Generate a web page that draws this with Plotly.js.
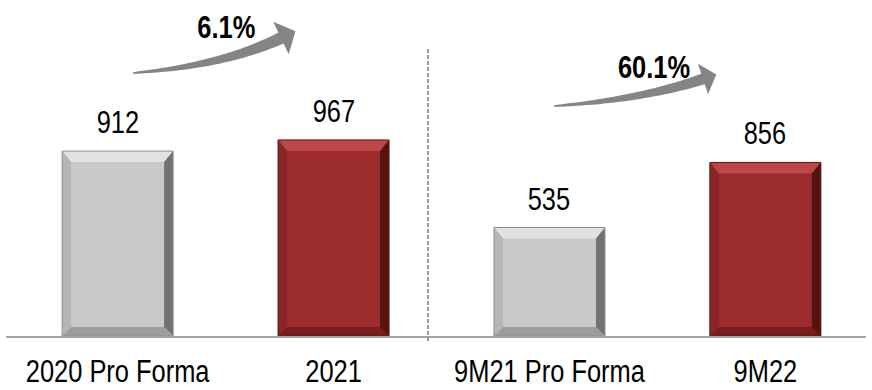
<!DOCTYPE html>
<html><head><meta charset="utf-8">
<script src="https://cdn.plot.ly/plotly-3.0.1.min.js"></script>
<style>html,body{margin:0;padding:0;background:#fff}#chart{width:872px;height:390px}</style>
</head><body><div id="chart"></div>
<script>
// ---- data ----
const categories = ["2020 Pro Forma", "2021", "9M21 Pro Forma", "9M22"];
const values = [912, 967, 535, 856];
const growthLabels = ["6.1%", "60.1%"];
const barKinds = ["base", "current", "base", "current"];

// ---- styling ----
const W = 872, H = 390;
const M = {l: 6, r: 6, t: 0, b: 54};
const PW = W - M.l - M.r, PH = H - M.t - M.b;
const xRange = [-0.517, 3.466];
const yRange = [0, 1657];
const barWidth = 0.514;
const FONT = "Liberation Sans Narrow, Arial Narrow, Liberation Sans, Arial, sans-serif";
const NARROW = 0.82;

const palette = {
  base:    {face: "#c9c9c9", top: "#e2e2e2", left: "#b6b6b6", right: "#727272", bottom: "#9d9d9d", line: "#8e8e8e"},
  current: {face: "#9c2c2c", top: "#bb4848", left: "#8a2525", right: "#561313", bottom: "#761d1d", line: "#5e1717"}
};

const dxPerPx = (xRange[1] - xRange[0]) / PW;
const dyPerPx = (yRange[1] - yRange[0]) / PH;

const shapes = [];
values.forEach((v, i) => {
  const c = palette[barKinds[i]];
  const x0 = i - barWidth / 2, x1 = i + barWidth / 2;
  const bl = 9 * dxPerPx, br = 9 * dxPerPx, bt = 11 * dyPerPx, bb = 9 * dyPerPx;
  const poly = (pts, col) => shapes.push({
    type: "path", xref: "x", yref: "y", layer: "above",
    path: "M" + pts.map(p => p[0] + "," + p[1]).join(" L") + " Z",
    fillcolor: col, line: {width: 0}
  });
  poly([[x0, v], [x1, v], [x1 - br, v - bt], [x0 + bl, v - bt]], c.top);
  poly([[x0, 0], [x0, v], [x0 + bl, v - bt], [x0 + bl, bb]], c.left);
  poly([[x1, 0], [x1, v], [x1 - br, v - bt], [x1 - br, bb]], c.right);
  poly([[x0, 0], [x1, 0], [x1 - br, bb], [x0 + bl, bb]], c.bottom);
  shapes.push({type: "rect", xref: "x", yref: "y", layer: "above",
    x0: x0, x1: x1, y0: 0, y1: v, line: {color: c.line, width: 1}, fillcolor: "rgba(0,0,0,0)"});
});

// divider
shapes.push({type: "line", xref: "x", yref: "paper", x0: 1.4375, x1: 1.4375,
  y0: -0.015, y1: (PH - 48) / PH, line: {color: "#9a9a9a", width: 2, dash: "4px,2px"}});

// curved growth arrows (decorative, pixel-defined)
const px = x => (x - M.l) / PW;
const py = y => (M.t + PH - y) / PH;
function arrow(P0, P1, P2, endW, headHalf, headLen) {
  const N = 30, top = [], bot = [];
  for (let k = 0; k <= N; k++) {
    const t = k / N;
    const x = (1-t)*(1-t)*P0[0] + 2*(1-t)*t*P1[0] + t*t*P2[0];
    const y = (1-t)*(1-t)*P0[1] + 2*(1-t)*t*P1[1] + t*t*P2[1];
    const tx = 2*(1-t)*(P1[0]-P0[0]) + 2*t*(P2[0]-P1[0]);
    const ty = 2*(1-t)*(P1[1]-P0[1]) + 2*t*(P2[1]-P1[1]);
    const L = Math.hypot(tx, ty), nx = ty / L, ny = -tx / L;
    const w = (0.8 + (endW/2 - 0.8) * Math.pow(t, 0.8));
    top.push([x - nx*w, y - ny*w]); bot.push([x + nx*w, y + ny*w]);
  }
  const tx = P2[0]-P1[0], ty = P2[1]-P1[1], L = Math.hypot(tx, ty);
  const ux = tx/L, uy = ty/L, nx = uy, ny = -ux;
  const hA = [P2[0] - nx*headHalf, P2[1] - ny*headHalf];
  const hB = [P2[0] + nx*headHalf, P2[1] + ny*headHalf];
  const tip = [P2[0] + ux*headLen, P2[1] + uy*headLen];
  const pts = top.concat([hA, tip, hB]).concat(bot.reverse());
  shapes.push({type: "path", xref: "paper", yref: "paper", layer: "above",
    path: "M" + pts.map(p => px(p[0]).toFixed(5) + "," + py(p[1]).toFixed(5)).join(" L") + " Z",
    fillcolor: "#858585", line: {width: 0}});
}
arrow([133, 73], [222, 66], [281, 38], 12, 18, 16);
arrow([554, 106], [640, 100], [703, 79], 11, 16, 14);

const annotations = [];
values.forEach((v, i) => annotations.push({
  x: i, y: v, xref: "x", yref: "y", text: String(v), showarrow: false,
  yanchor: "bottom", yshift: 9, font: {family: FONT, size: 31, color: "#000"}
}));
const growthPos = [[226, 27], [654, 68]];
growthLabels.forEach((g, k) => annotations.push({
  x: px(growthPos[k][0]), y: py(growthPos[k][1]), xref: "paper", yref: "paper",
  text: "<b>" + g + "</b>", showarrow: false, xanchor: "center", yanchor: "middle",
  font: {family: FONT, size: 31, color: "#000"}
}));

const trace = {
  type: "bar", x: categories.map((_, i) => i), y: values, width: barWidth,
  marker: {color: barKinds.map(k => palette[k].face), line: {width: 0}},
  hoverinfo: "skip", textposition: "none"
};

const layout = {
  width: W, height: H, margin: M, showlegend: false,
  paper_bgcolor: "#fff", plot_bgcolor: "#fff",
  xaxis: {range: xRange, tickvals: categories.map((_, i) => i), ticktext: categories,
    showgrid: false, zeroline: false, showline: true, linecolor: "#a3a3a3", linewidth: 2,
    ticks: "", ticklabelstandoff: 7, tickfont: {family: FONT, size: 31, color: "#000"}, fixedrange: true},
  yaxis: {range: yRange, visible: false, fixedrange: true},
  shapes: shapes, annotations: annotations
};

function hasNarrowFont() {
  const c = document.createElement("canvas").getContext("2d");
  const s = "2020 Pro Forma 9M21";
  c.font = "31px 'Liberation Sans Narrow', monospace"; const a = c.measureText(s).width;
  c.font = "31px monospace"; const b = c.measureText(s).width;
  c.font = "31px 'Arial Narrow', monospace"; const d = c.measureText(s).width;
  return Math.abs(a - b) > 0.5 || Math.abs(d - b) > 0.5;
}

Plotly.newPlot("chart", [trace], layout, {displayModeBar: false, staticPlot: true}).then(gd => {
  // emulate a condensed (Arial Narrow-like) face when no narrow font is installed
  if (!hasNarrowFont()) {
    gd.querySelectorAll(".annotation-text, .xtick text").forEach(t => {
      const len = t.getComputedTextLength();
      t.setAttribute("textLength", (len * NARROW).toFixed(2));
      t.setAttribute("lengthAdjust", "spacingAndGlyphs");
    });
  }
});
</script></body></html>
